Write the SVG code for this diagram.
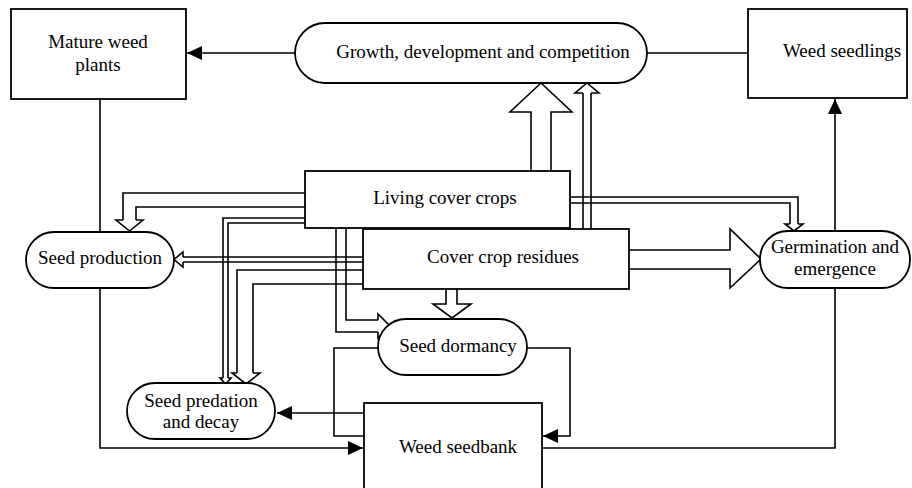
<svg xmlns="http://www.w3.org/2000/svg" width="912" height="488" viewBox="0 0 912 488">
<defs>
<style>
.n{fill:#fff;stroke:#000;stroke-width:1.8}
.c{fill:none;stroke:#000;stroke-width:1.6}
.h{fill:#fff;stroke:#000;stroke-width:1.6;stroke-linejoin:miter}
.t{font-family:"Liberation Serif","Times New Roman",serif;font-size:19px;fill:#000;text-anchor:middle}
</style>
<marker id="ah" markerWidth="15" markerHeight="14" refX="15" refY="7" orient="auto" markerUnits="userSpaceOnUse"><path d="M0,0 L15,7 L0,14 z" fill="#000"/></marker>
</defs>
<rect width="912" height="488" fill="#fff"/>
<g id="connectors">
<path class="c" d="M295,53 H187" marker-end="url(#ah)"/>
<path class="c" d="M647,53 H748"/>
<path class="c" d="M100,99 V448 H363" marker-end="url(#ah)"/>
<path class="c" d="M542,448 H835 V99" marker-end="url(#ah)"/>
<path class="c" d="M364,413 H277" marker-end="url(#ah)"/>
<path class="c" d="M527,348 H570 V436 H543" marker-end="url(#ah)"/>
<path class="c" d="M378,348 H334 V436 H364"/>
<!-- Living -> Growth (big hollow arrow) -->
<path class="h" d="M531,171 V112 H510 L541,83 L572,112 H551 V171"/>
<!-- Residues -> Growth (thin double) -->
<path class="c" d="M583,229 V93 M591,229 V93 M583,93 H575 L587,83 L599,93 H591"/>
<!-- Residues -> Germination (big hollow) -->
<path class="h" d="M629,250 H730 V229 L761,259 L730,288 V269 H629"/>
<!-- Living -> Germination (double) -->
<path class="c" d="M570,197 H798 V224 M570,203 H790 V224 M790,224 H785 L794,231 L803,224 H798"/>
<!-- Residues -> Dormancy (hollow) -->
<path class="h" d="M446,289 V304 H433 L452,318 L471,304 H457 V289"/>
<!-- Living -> Seed production (double) -->
<path class="c" d="M305,193 H123 V220 M305,207 H136 V220 M123,220 H116 L129.5,231 L143,220 H136"/>
<!-- Residues -> Seed production (double) -->
<path class="c" d="M363,257 H183 M363,262 H183 M183,257 V252 L174,259.5 L183,267 V262"/>
<!-- Living -> Seed predation (thin double) -->
<path class="c" d="M305,218 H223 V378 M305,223 H228 V378 M223,378 H220 L225.5,384 L231,378 H228"/>
<!-- Residues -> Seed predation (double) -->
<path class="c" d="M363,270 H237 V373 M363,284 H253 V373 M237,373 H232 L246,384 L260,373 H253"/>
<!-- Living -> Dormancy (double) -->
<path class="c" d="M336,228 V332 H378 M346,228 V320 H378 M378,320 V314 L390,326 L378,338 V332"/>
</g>
<g id="mature-weed-plants">
<rect class="n" x="11" y="9" width="175" height="90"/>
<text class="t" x="98" y="48">Mature weed</text>
<text class="t" x="98" y="71">plants</text>
</g>
<g id="growth">
<rect class="n" x="295" y="23" width="352" height="60" rx="30" ry="30"/>
<text class="t" x="483" y="58">Growth, development and competition</text>
</g>
<g id="weed-seedlings">
<rect class="n" x="748" y="9" width="159" height="89"/>
<text class="t" x="842" y="57">Weed seedlings</text>
</g>
<g id="living-cover-crops">
<rect class="n" x="305" y="171" width="265" height="57"/>
<text class="t" x="445" y="204">Living cover crops</text>
</g>
<g id="cover-crop-residues">
<rect class="n" x="363" y="229" width="266" height="60"/>
<text class="t" x="503" y="263">Cover crop residues</text>
</g>
<g id="seed-production">
<rect class="n" x="26" y="232" width="148" height="56" rx="28" ry="28"/>
<text class="t" x="100" y="264">Seed production</text>
</g>
<g id="germination">
<rect class="n" x="760" y="231" width="150" height="57" rx="28" ry="28"/>
<text class="t" x="835" y="253">Germination and</text>
<text class="t" x="835" y="275">emergence</text>
</g>
<g id="seed-dormancy">
<rect class="n" x="378" y="319" width="149" height="56" rx="28" ry="28"/>
<text class="t" x="458" y="352">Seed dormancy</text>
</g>
<g id="seed-predation">
<rect class="n" x="127" y="383" width="148" height="56" rx="28" ry="28"/>
<text class="t" x="201" y="407">Seed predation</text>
<text class="t" x="201" y="428">and decay</text>
</g>
<g id="weed-seedbank">
<rect class="n" x="364" y="403" width="178" height="100"/>
<text class="t" x="458" y="453">Weed seedbank</text>
</g>
</svg>
